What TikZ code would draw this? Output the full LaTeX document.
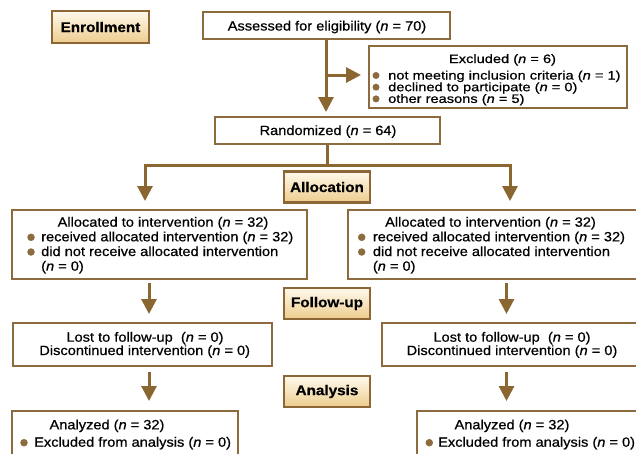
\documentclass[tikz,border=0pt]{standalone}
\usepackage{fontspec}
\setmainfont{Liberation Sans}[FakeStretch=1.09,FakeBold=0.6]
\newfontfamily\exfont{Liberation Sans}[FakeStretch=1.2,FakeBold=0.6]
\usetikzlibrary{arrows.meta,shadows,calc}
\definecolor{bord}{HTML}{8C6B3E}
\definecolor{arrc}{HTML}{8A6631}
\definecolor{lbord}{HTML}{8E6534}
\definecolor{ltop}{HTML}{FFF9EC}
\definecolor{lbot}{HTML}{EDCC8E}
\tikzset{
 box/.style={draw=bord, line width=2pt, fill=white, inner sep=0pt},
 lab/.style={draw=lbord, line width=2.8pt, top color=ltop, bottom color=lbot,
   minimum width=86pt, minimum height=31pt, inner sep=0pt,
   font=\fontsize{14}{15}\selectfont\bfseries,
   drop shadow={opacity=0.25, shadow xshift=1.2pt, shadow yshift=-1.2pt}},
 txt/.style={inner sep=0pt, anchor=base, font=\fontsize{13.4}{15}\selectfont},
 txl/.style={txt, anchor=base west},
 ext/.style={inner sep=0pt, anchor=base, font=\exfont\fontsize{12.2}{13}\selectfont},
 exl/.style={ext, anchor=base west},
 dot/.style={circle, fill=bord, inner sep=0pt, minimum size=7.5pt},
 arr/.style={draw=arrc, line width=3pt, -{Triangle[length=15pt,width=15pt]}},
 ln/.style={draw=arrc, line width=3pt},
}
\begin{document}
\begin{tikzpicture}[x=1pt,y=-1pt]
\useasboundingbox (0,0) rectangle (636,453);
\clip (0,0) rectangle (636,453);
% boxes
\node[lab, minimum width=97pt, minimum height=32pt] (enroll) at (100.5,27) {Enrollment};
\node[box, minimum width=247pt, minimum height=27pt] (assess) at (326.5,25.5) {};
\node[box, minimum width=258pt, minimum height=62pt] (excl) at (498,77) {};
\node[box, minimum width=225pt, minimum height=27pt] (rand) at (327.5,130.5) {};
\node[lab] (alloc) at (327,187) {Allocation};
\node[box, minimum width=295pt, minimum height=69pt] (allocL) at (159.5,244.5) {};
\node[box, minimum width=295pt, minimum height=69pt] (allocR) at (495.5,244.5) {};
\node[lab] (follow) at (327,303.5) {Follow-up};
\node[box, minimum width=259pt, minimum height=43pt] (lostL) at (142.5,344.5) {};
\node[box, minimum width=259pt, minimum height=43pt] (lostR) at (511.5,344.5) {};
\node[lab] (anal) at (327,391.5) {Analysis};
\node[box, minimum width=226pt, minimum height=44pt] (anaL) at (125,433) {};
\node[box, minimum width=226pt, minimum height=44pt] (anaR) at (530,433) {};
% texts
\node[txt] (assessT) at (327,30.5) {Assessed for eligibility (\textit{n} = 70)};
\node[ext] (exclT) at (502.5,63) {Excluded (\textit{n} = 6)};
\node[dot, minimum size=7pt] (ed1) at (376,75.5) {};
\node[exl] (ex1) at (388,79.5) {not meeting inclusion criteria (\textit{n} = 1)};
\node[dot, minimum size=7pt] (ed2) at (376,87.2) {};
\node[exl] (ex2) at (388,91.2) {declined to participate (\textit{n} = 0)};
\node[dot, minimum size=7pt] (ed3) at (376,98.9) {};
\node[exl] (ex3) at (388,102.9) {other reasons (\textit{n} = 5)};
\node[txt] (randT) at (328,135) {Randomized (\textit{n} = 64)};
% allocation left
\node[txt] (aLt) at (163,226.7) {Allocated to intervention (\textit{n} = 32)};
\node[dot] (aLd1) at (31,237.3) {};
\node[txl] (aL1) at (41,241.3) {received allocated intervention (\textit{n} = 32)};
\node[dot] (aLd2) at (31,252) {};
\node[txl] (aL2) at (41,256) {did not receive allocated intervention};
\node[txl] (aL3) at (41,270.7) {(\textit{n} = 0)};
% allocation right
\node[txt] (aRt) at (490.5,226.7) {Allocated to intervention (\textit{n} = 32)};
\node[dot] (aRd1) at (361.7,237.3) {};
\node[txl] (aR1) at (372.7,241.3) {received allocated intervention (\textit{n} = 32)};
\node[dot] (aRd2) at (361.7,252) {};
\node[txl] (aR2) at (372.7,256) {did not receive allocated intervention};
\node[txl] (aR3) at (372.7,270.7) {(\textit{n} = 0)};
% follow-up
\node[txt] (lL1) at (145,341.7) {Lost to follow-up~ (\textit{n} = 0)};
\node[txt] (lL2) at (144.7,355) {Discontinued intervention (\textit{n} = 0)};
\node[txt] (lR1) at (512,341.7) {Lost to follow-up~ (\textit{n} = 0)};
\node[txt] (lR2) at (512,355) {Discontinued intervention (\textit{n} = 0)};
% analysis
\node[txt] (nLt) at (107,429.3) {Analyzed (\textit{n} = 32)};
\node[dot] (nLd) at (24,442.7) {};
\node[txl] (nL1) at (34,446.7) {Excluded from analysis (\textit{n} = 0)};
\node[txt] (nRt) at (512,429.3) {Analyzed (\textit{n} = 32)};
\node[dot] (nRd) at (429.3,442.7) {};
\node[txl] (nR1) at (438,446.7) {Excluded from analysis (\textit{n} = 0)};
% connectors
\coordinate (colM) at (326,0);
\coordinate (colL) at (149,0);
\coordinate (colR) at (506.5,0);
\coordinate (colL2) at (145,0);
\coordinate (colR2) at (510,0);
\coordinate (br) at (326,75);
\coordinate (sp) at (327,165);
\draw[arr, shorten >=4pt] (assess.south -| colM) -- (rand.north -| colM);
\draw[arr, shorten >=7pt] (br) -- (br -| excl.west);
\draw[ln] (rand.south -| sp) -- ([yshift=-1.5pt]sp);
\draw[arr, shorten >=8pt] (sp) -| (allocL.north -| colL2);
\draw[arr, shorten >=8pt] (sp) -| (allocR.north -| colR2);
\draw[arr, shorten <=3pt, shorten >=8pt] (allocL.south -| colL) -- (lostL.north -| colL);
\draw[arr, shorten <=5pt, shorten >=9pt] (lostL.south -| colL) -- (anaL.north -| colL);
\draw[arr, shorten <=3pt, shorten >=8pt] (allocR.south -| colR) -- (lostR.north -| colR);
\draw[arr, shorten <=5pt, shorten >=9pt] (lostR.south -| colR) -- (anaR.north -| colR);
\end{tikzpicture}
\end{document}
